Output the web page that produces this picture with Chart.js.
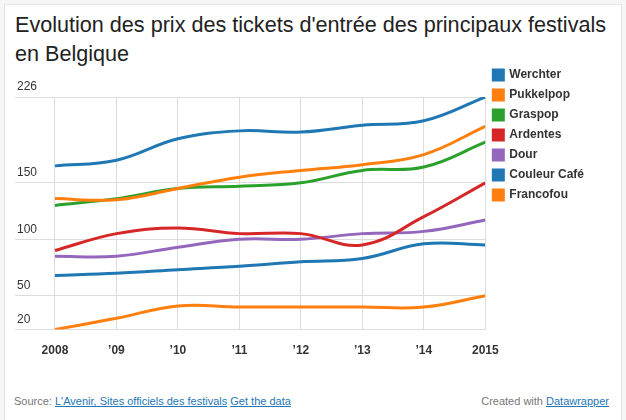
<!DOCTYPE html>
<html>
<head>
<meta charset="utf-8">
<script src="https://cdn.jsdelivr.net/npm/chart.js@4/dist/chart.umd.min.js"></script>
<style>
  body { margin: 0; background: #f6f6f6; font-family: "Helvetica Neue", Helvetica, "Liberation Sans", Arial, sans-serif; }
  #card { position: absolute; left: 4px; top: 4px; width: 616px; height: 420px; background: #fff; border: 1px solid #e6e6e6; }
  h1 { position: absolute; left: 10px; top: 5px; margin: 0; width: 606px; font-size: 21.6px; line-height: 29px; font-weight: normal; color: #222; }
  canvas { position: absolute; left: -4px; top: 56px; }
  .foot { position: absolute; top: 390px; font-size: 11px; color: #777; }
  .foot a { color: #2577b8; text-decoration: underline; }
</style>
</head>
<body>
<div id="card">
  <h1>Evolution des prix des tickets d'entrée des principaux festivals en Belgique</h1>
  <canvas id="lineChart" width="600" height="323"></canvas>
  <div class="foot" style="left:9px">Source: <a>L'Avenir, Sites officiels des festivals</a> <a>Get the data</a></div>
  <div class="foot" style="right:12px">Created with <a>Datawrapper</a></div>
</div>
<script>
    var years = [2008, 2009, 2010, 2011, 2012, 2013, 2014, 2015];
    var yTicks = [20, 50, 100, 150, 226];

    var werchter    = [165, 170, 189, 196, 195, 201, 205, 226];
    var pukkelpop   = [136, 135, 145, 155, 161, 166, 175, 200];
    var graspop     = [130, 136, 145, 147, 150, 161, 164, 186];
    var ardentes    = [90, 105, 110, 105, 105, 95, 120, 150];
    var dour        = [85, 85, 93, 100, 100, 105, 107, 117];
    var couleurCafe = [68, 70, 73, 76, 80, 83, 96, 95];
    var francofou   = [20, 30, 41, 40, 40, 40, 40, 50];

    var names = ["Werchter", "Pukkelpop", "Graspop", "Ardentes", "Dour", "Couleur Café", "Francofou"];
    var series = [werchter, pukkelpop, graspop, ardentes, dour, couleurCafe, francofou];
    var colors = ["#1f77b4", "#ff7f0e", "#2ca02c", "#d62728", "#9467bd", "#1f77b4", "#ff7f0e"];

    var datasets = series.map(function(vals, i) {
        return {
            label: names[i],
            data: vals.map(function(v, j) { return {x: years[j], y: v}; }),
            borderColor: colors[i],
            backgroundColor: colors[i],
            borderWidth: 3,
            pointRadius: 0,
            tension: 0.4
        };
    });

    Chart.defaults.font.family = '"Helvetica Neue", Helvetica, "Liberation Sans", Arial, sans-serif';

    new Chart("lineChart", {
        type: "line",
        data: { datasets: datasets },
        options: {
            responsive: false,
            animation: false,
            layout: { padding: { left: 10, right: 7, top: 0, bottom: 12 } },
            plugins: {
                tooltip: { enabled: false },
                legend: {
                    position: "right",
                    align: "start",
                    labels: {
                        boxWidth: 10,
                        boxHeight: 10,
                        padding: 8,
                        color: "#333",
                        font: { size: 12, weight: "bold" }
                    }
                }
            },
            scales: {
                x: {
                    type: "linear",
                    min: 2007.35,
                    max: 2015,
                    afterBuildTicks: function(axis) {
                        axis.ticks = years.map(function(v) { return {value: v}; });
                    },
                    grid: { color: "#dcdcdc", drawTicks: false },
                    border: { display: false },
                    ticks: {
                        padding: 14,
                        color: "#333",
                        font: { size: 12, weight: "bold" },
                        maxRotation: 0,
                        callback: function(v) {
                            if (v === 2008 || v === 2015) return String(v);
                            return "\u2019" + String(v).slice(2);
                        }
                    }
                },
                y: {
                    min: 20,
                    max: 226,
                    afterBuildTicks: function(axis) {
                        axis.ticks = yTicks.map(function(v) { return {value: v}; });
                    },
                    afterFit: function(axis) {
                        axis.paddingTop = 36;
                    },
                    grid: { color: "#dcdcdc", drawTicks: false },
                    border: { display: false },
                    ticks: {
                        mirror: true,
                        padding: 2,
                        labelOffset: -10,
                        color: "#333",
                        font: { size: 12 }
                    }
                }
            }
        }
    });
</script>
</body>
</html>
